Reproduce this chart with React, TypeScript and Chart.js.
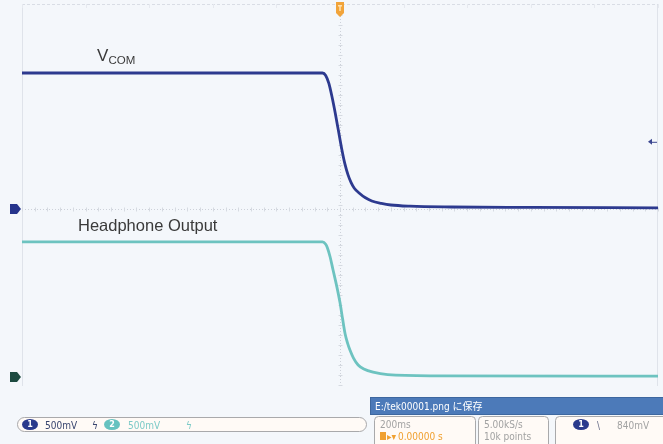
import React, { useEffect, useRef } from "react";
import { Chart, registerables } from "chart.js";
Chart.register(...registerables);

const vcomTime = [-1, -0.055, -0.045, -0.035, -0.025, -0.015, -0.005, 0.005, 0.015, 0.025, 0.035, 0.045, 0.06, 0.08, 0.1, 0.13, 0.16, 0.22, 0.35, 0.6, 1];
const vcomVolts = [1.7, 1.7, 1.67, 1.57, 1.4, 1.2, 0.98, 0.76, 0.57, 0.43, 0.33, 0.26, 0.2, 0.14, 0.1, 0.07, 0.05, 0.035, 0.025, 0.02, 0.015];
const hpTime = [-1, -0.055, -0.045, -0.04, -0.031, -0.022, -0.01, 0, 0.008, 0.016, 0.024, 0.031, 0.042, 0.057, 0.075, 0.104, 0.15, 0.3, 1];
const hpVolts = [1.69, 1.69, 1.66, 1.62, 1.5, 1.34, 1.13, 0.93, 0.73, 0.54, 0.42, 0.34, 0.24, 0.15, 0.1, 0.06, 0.03, 0.015, 0.01];

const ch1Offset = 0;
const ch2Offset = -2.1;
const triggerLevel = 0.84;
const xMin = -1;
const xMax = 1;
const yMin = -2.2125;
const yMax = 2.5625;
const timeDivisions = [-1, -0.8, -0.6, -0.4, -0.2, 0, 0.2, 0.4, 0.6, 0.8, 1];

const vcomLabelMain = "V";
const vcomLabelSub = "COM";
const hpLabel = "Headphone Output";
const saveText = "E:/tek00001.png に保存";
const ch1Scale = "500mV";
const ch2Scale = "500mV";
const timeDiv = "200ms";
const triggerPos = "0.00000 s";
const sampleRate = "5.00kS/s";
const recordLength = "10k points";
const trigLevelText = "840mV";

const NAVY = "#2d3a8f";
const TEAL = "#6dc3c0";
const BG = "#f4f7fb";
const SMALL = "10px 'DejaVu Sans Condensed', 'DejaVu Sans', sans-serif";

function roundRect(ctx: CanvasRenderingContext2D, x: number, y: number, w: number, h: number, r: number) {
  ctx.beginPath();
  ctx.moveTo(x + r, y);
  ctx.lineTo(x + w - r, y);
  ctx.arcTo(x + w, y, x + w, y + r, r);
  ctx.lineTo(x + w, y + h - r);
  ctx.arcTo(x + w, y + h, x + w - r, y + h, r);
  ctx.lineTo(x + r, y + h);
  ctx.arcTo(x, y + h, x, y + h - r, r);
  ctx.lineTo(x, y + r);
  ctx.arcTo(x, y, x + r, y, r);
  ctx.closePath();
}

function badge(ctx: CanvasRenderingContext2D, cx: number, cy: number, color: string, text: string) {
  ctx.fillStyle = color;
  ctx.beginPath();
  ctx.ellipse(cx, cy, 8, 5.5, 0, 0, Math.PI * 2);
  ctx.fill();
  ctx.fillStyle = "#ffffff";
  ctx.font = "bold 8px 'DejaVu Sans', sans-serif";
  ctx.textAlign = "center";
  ctx.textBaseline = "middle";
  ctx.fillText(text, cx, cy + 0.5);
  ctx.textAlign = "left";
  ctx.textBaseline = "alphabetic";
  ctx.font = SMALL;
}

const scopePlugin = {
  id: "scope",
  beforeDraw(chart: any) {
    const ctx = chart.ctx as CanvasRenderingContext2D;
    ctx.save();
    ctx.fillStyle = BG;
    ctx.fillRect(0, 0, chart.width, chart.height);
    ctx.restore();
  },
  beforeDatasetsDraw(chart: any) {
    const ctx = chart.ctx as CanvasRenderingContext2D;
    const xs = chart.scales.x;
    const ys = chart.scales.y;
    const a = chart.chartArea;
    ctx.save();
    ctx.strokeStyle = "#dfe3ea";
    ctx.lineWidth = 1;
    ctx.beginPath();
    ctx.moveTo(a.left + 0.5, a.top);
    ctx.lineTo(a.left + 0.5, a.bottom);
    ctx.moveTo(a.right - 0.5, a.top);
    ctx.lineTo(a.right - 0.5, a.bottom);
    ctx.stroke();
    ctx.setLineDash([3, 2]);
    ctx.strokeStyle = "#d9dde5";
    ctx.beginPath();
    ctx.moveTo(a.left, a.top + 0.5);
    ctx.lineTo(a.right, a.top + 0.5);
    ctx.stroke();
    ctx.setLineDash([]);
    ctx.strokeStyle = "#e6e9ef";
    timeDivisions.forEach((t) => {
      const px = Math.round(xs.getPixelForValue(t)) + 0.5;
      ctx.beginPath();
      ctx.moveTo(px, a.top);
      ctx.lineTo(px, a.top + 4);
      ctx.stroke();
    });
    const cx = Math.round(xs.getPixelForValue(0)) + 0.5;
    const cy = Math.round(ys.getPixelForValue(ch1Offset)) + 0.5;
    ctx.strokeStyle = "#cdd1d9";
    ctx.setLineDash([1, 2]);
    ctx.beginPath();
    ctx.moveTo(cx, a.top);
    ctx.lineTo(cx, a.bottom);
    ctx.moveTo(a.left, cy);
    ctx.lineTo(a.right, cy);
    ctx.stroke();
    ctx.setLineDash([]);
    ctx.strokeStyle = "#d6dae1";
    for (let i = 0; i <= 50; i++) {
      const t = xMin + (i * (xMax - xMin)) / 50;
      const px = Math.round(xs.getPixelForValue(t)) + 0.5;
      ctx.beginPath();
      ctx.moveTo(px, cy - 2);
      ctx.lineTo(px, cy + 2);
      ctx.stroke();
    }
    for (let v = -2.2; v <= 2.6; v += 0.125) {
      const py = Math.round(ys.getPixelForValue(v)) + 0.5;
      ctx.beginPath();
      ctx.moveTo(cx - 2, py);
      ctx.lineTo(cx + 2, py);
      ctx.stroke();
    }
    ctx.restore();
  },
  afterDraw(chart: any) {
    const ctx = chart.ctx as CanvasRenderingContext2D;
    const xs = chart.scales.x;
    const ys = chart.scales.y;
    ctx.save();

    const m1 = ys.getPixelForValue(ch1Offset);
    const m2 = ys.getPixelForValue(ch2Offset);
    const marker = (y: number, color: string) => {
      ctx.fillStyle = color;
      ctx.beginPath();
      ctx.moveTo(10, y - 5);
      ctx.lineTo(17, y - 5);
      ctx.lineTo(21, y);
      ctx.lineTo(17, y + 5);
      ctx.lineTo(10, y + 5);
      ctx.closePath();
      ctx.fill();
    };
    marker(m1, "#26348c");
    marker(m2, "#1d4a40");

    const tx = xs.getPixelForValue(0);
    ctx.fillStyle = "#f2a43a";
    ctx.beginPath();
    ctx.moveTo(tx - 4, 2);
    ctx.lineTo(tx + 4, 2);
    ctx.lineTo(tx + 4, 13);
    ctx.lineTo(tx, 17);
    ctx.lineTo(tx - 4, 13);
    ctx.closePath();
    ctx.fill();
    ctx.fillStyle = "#ffe2b0";
    ctx.fillRect(tx - 2, 5, 4, 1.5);
    ctx.fillRect(tx - 0.75, 5, 1.5, 6);

    const ty = ys.getPixelForValue(triggerLevel);
    ctx.fillStyle = "#3b4690";
    ctx.beginPath();
    ctx.moveTo(648, ty);
    ctx.lineTo(652, ty - 3);
    ctx.lineTo(652, ty + 3);
    ctx.closePath();
    ctx.fill();
    ctx.strokeStyle = "#3b4690";
    ctx.lineWidth = 1;
    ctx.beginPath();
    ctx.moveTo(651, ty + 0.5);
    ctx.lineTo(657, ty + 0.5);
    ctx.stroke();

    ctx.fillStyle = "#3a3a3a";
    ctx.font = "17px 'Liberation Sans', Arial, sans-serif";
    ctx.fillText(vcomLabelMain, 97, 61);
    ctx.font = "11.5px 'Liberation Sans', Arial, sans-serif";
    ctx.fillText(vcomLabelSub, 108.5, 64);
    ctx.font = "16.5px 'Liberation Sans', Arial, sans-serif";
    ctx.fillText(hpLabel, 78, 231);

    // save message
    ctx.fillStyle = "#4c7ab9";
    ctx.fillRect(370, 397, 300, 17);
    ctx.strokeStyle = "#3d679f";
    ctx.strokeRect(370.5, 397.5, 300, 17);
    ctx.fillStyle = "#ffffff";
    ctx.font = "10px 'DejaVu Sans Condensed', 'DejaVu Sans', 'Noto Sans CJK JP', sans-serif";
    ctx.fillText(saveText, 375, 410);

    // channel pill
    ctx.fillStyle = "#fffaf6";
    ctx.strokeStyle = "#a9a9ab";
    roundRect(ctx, 17.5, 417.5, 349, 14, 7);
    ctx.fill();
    ctx.stroke();
    badge(ctx, 30, 424.5, "#2a3a8c", "1");
    ctx.fillStyle = "#38446e";
    ctx.fillText(ch1Scale, 45, 428.5);
    ctx.fillText("ϟ", 92, 428.5);
    badge(ctx, 112, 424.5, "#66c2c0", "2");
    ctx.fillStyle = "#7ccac7";
    ctx.fillText(ch2Scale, 128, 428.5);
    ctx.fillText("ϟ", 186, 428.5);

    const box = (x: number, w: number) => {
      ctx.fillStyle = "#fffaf6";
      ctx.strokeStyle = "#a9a9ab";
      roundRect(ctx, x + 0.5, 416.5, w, 34, 4);
      ctx.fill();
      ctx.stroke();
    };
    box(374, 101);
    box(478, 70);
    box(555, 120);
    ctx.font = SMALL;
    ctx.fillStyle = "#a2a2a2";
    ctx.fillText(timeDiv, 380, 428);
    ctx.fillStyle = "#f0a030";
    ctx.fillRect(380, 432, 6, 8);
    ctx.fillText("▸▾", 387, 440);
    ctx.fillText(triggerPos, 398, 440);
    ctx.fillStyle = "#a2a2a2";
    ctx.fillText(sampleRate, 484, 428);
    ctx.fillText(recordLength, 484, 440);
    badge(ctx, 581, 424.5, "#2a3a8c", "1");
    ctx.fillStyle = "#6a6f8a";
    ctx.fillText("\\", 597, 428.5);
    ctx.fillStyle = "#a2a2a2";
    ctx.fillText(trigLevelText, 617, 428.5);

    ctx.restore();
  },
};

export default function App() {
  const ref = useRef<HTMLCanvasElement | null>(null);
  useEffect(() => {
    if (!ref.current) return;
    const vcomData = vcomTime.map((t, i) => ({ x: t, y: vcomVolts[i] + ch1Offset }));
    const hpData = hpTime.map((t, i) => ({ x: t, y: hpVolts[i] + ch2Offset }));
    const chart = new Chart(ref.current, {
      type: "line",
      data: {
        datasets: [
          { label: "VCOM", data: vcomData, borderColor: NAVY, borderWidth: 2.8, pointRadius: 0, cubicInterpolationMode: "monotone", fill: false },
          { label: "Headphone Output", data: hpData, borderColor: TEAL, borderWidth: 2.8, pointRadius: 0, cubicInterpolationMode: "monotone", fill: false },
        ],
      },
      options: {
        animation: false,
        responsive: true,
        maintainAspectRatio: false,
        layout: { padding: { left: 22, right: 5, top: 4, bottom: 58 } },
        scales: {
          x: { type: "linear", min: xMin, max: xMax, display: false },
          y: { type: "linear", min: yMin, max: yMax, display: false },
        },
        plugins: { legend: { display: false }, tooltip: { enabled: false } },
        events: [],
      },
      plugins: [scopePlugin],
    });
    return () => chart.destroy();
  }, []);
  return (
    <div style={{ position: "fixed", left: 0, top: 0, width: 663, height: 444 }}>
      <canvas ref={ref} width={663} height={444} />
    </div>
  );
}
